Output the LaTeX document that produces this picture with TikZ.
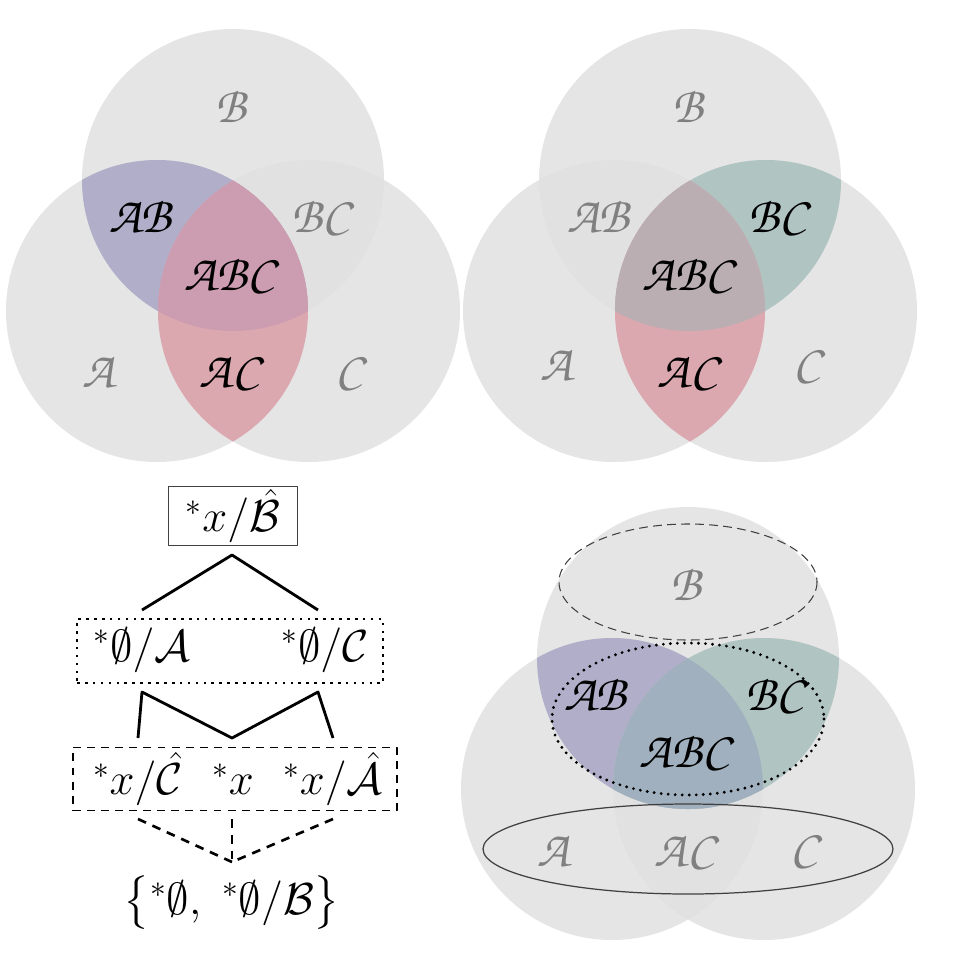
\documentclass[tikz,border=0pt]{standalone}
\usepackage{amsmath,amssymb}
\usepackage{fix-cm}
\usepackage{xcolor}
\usepackage{tikz}
\usetikzlibrary{positioning}
\DeclareMathAlphabet{\mathpzc}{OT1}{pzc}{m}{it}
\definecolor{setgray}{RGB}{224,224,224}
\definecolor{labelgray}{RGB}{128,128,128}
\definecolor{abpurple}{RGB}{176,174,200}
\definecolor{acred}{RGB}{220,168,176}
\definecolor{bcgreen}{RGB}{176,196,194}
\definecolor{abcmauve}{RGB}{204,156,176}
\definecolor{abcrose}{RGB}{186,174,178}
\definecolor{abcslate}{RGB}{160,176,190}
\newcommand{\setfont}{\fontsize{29}{34}\selectfont}
\newcommand{\treefont}{\fontsize{25.5}{30}\selectfont}

% The three discs of one diagram, B on top, A and C below it.
\newcommand{\setdisks}{%
  \foreach \sx/\sy in {-76/131,0/0,76/131}{%
    \fill[setgray, fill opacity=.85] (\sx,\sy) circle[radius=151];
  }%
}
% Fill the overlap of two discs: colour, first centre, second centre.
\newcommand{\lensfill}[3]{%
  \begin{scope}
    \clip #2 circle[radius=151];
    \fill[#1] #3 circle[radius=151];
  \end{scope}%
}
% Fill the middle region shared by all three discs.
\newcommand{\corefill}[1]{%
  \begin{scope}
    \clip (-76,131) circle[radius=151];
    \clip (0,0) circle[radius=151];
    \fill[#1] (76,131) circle[radius=151];
  \end{scope}%
}

\tikzset{
  offlabel/.style={text=labelgray, font=\setfont, inner sep=0pt},
  onlabel/.style={text=black, font=\setfont, inner sep=0pt},
  termnode/.style={font=\treefont, inner sep=0pt},
  rootbox/.style={draw=black!75, line width=.6pt, font=\treefont,
    minimum width=2.58cm, minimum height=1.18cm, inner sep=0pt},
  dotbox/.style={draw, line width=1.5pt, dash pattern=on 1.5pt off 3pt,
    minimum width=6.12cm, minimum height=1.28cm},
  dashbox/.style={draw, line width=1.1pt, dash pattern=on 4.5pt off 3.5pt,
    minimum width=6.48cm, minimum height=1.26cm},
  branch/.style={line width=1.6pt},
  dashbranch/.style={line width=1.5pt, dash pattern=on 5pt off 4pt},
}

\begin{document}
\begin{tikzpicture}[x=0.02cm, y=-0.02cm, line join=round]
  \useasboundingbox (0,0) rectangle (979,963);

  % Top left: AB and AC marked.
  \begin{scope}[shift={(233,180)}]
    \setdisks
    \lensfill{abpurple}{(-76,131)}{(0,0)}
    \lensfill{acred}{(-76,131)}{(76,131)}
    \corefill{abcmauve}
    \node[offlabel] (p1B) at (0,-73) {$\mathpzc{B}$};
    \node[onlabel] (p1AB) at (-91,37) {$\mathpzc{AB}$};
    \node[offlabel] (p1BC) at (90,37) {$\mathpzc{BC}$};
    \node[onlabel] (p1ABC) at (-1,95) {$\mathpzc{ABC}$};
    \node[offlabel] (p1A) at (-133,192) {$\mathpzc{A}$};
    \node[onlabel] (p1AC) at (-1,192) {$\mathpzc{AC}$};
    \node[offlabel] (p1C) at (119,192) {$\mathpzc{C}$};
  \end{scope}

  % Top right: BC and AC marked.
  \begin{scope}[shift={(690,180)}]
    \setdisks
    \lensfill{bcgreen}{(0,0)}{(76,131)}
    \lensfill{acred}{(-76,131)}{(76,131)}
    \corefill{abcrose}
    \node[offlabel] (p2B) at (0,-73) {$\mathpzc{B}$};
    \node[offlabel] (p2AB) at (-90,37) {$\mathpzc{AB}$};
    \node[onlabel] (p2BC) at (90,37) {$\mathpzc{BC}$};
    \node[onlabel] (p2ABC) at (0,95) {$\mathpzc{ABC}$};
    \node[offlabel] (p2A) at (-132,185) {$\mathpzc{A}$};
    \node[onlabel] (p2AC) at (0,192) {$\mathpzc{AC}$};
    \node[offlabel] (p2C) at (120,185) {$\mathpzc{C}$};
  \end{scope}

  % Bottom right: AB and BC marked, with the three groupings.
  \begin{scope}[shift={(688,658)}]
    \setdisks
    \lensfill{abpurple}{(-76,131)}{(0,0)}
    \lensfill{bcgreen}{(0,0)}{(76,131)}
    \corefill{abcslate}
    \draw[black!75, line width=.6pt, dash pattern=on 5pt off 3pt]
      (0,-76) ellipse[x radius=129, y radius=58];
    \draw[black, line width=1.8pt, line cap=round, dash pattern=on 0pt off 4pt]
      (0,61) ellipse[x radius=136, y radius=76];
    \draw[black!75, line width=.7pt]
      (0,191) ellipse[x radius=205, y radius=45];
    \node[offlabel] (p3B) at (0,-73) {$\mathpzc{B}$};
    \node[onlabel] (p3AB) at (-91,37) {$\mathpzc{AB}$};
    \node[onlabel] (p3BC) at (89,37) {$\mathpzc{BC}$};
    \node[onlabel] (p3ABC) at (-1,94) {$\mathpzc{ABC}$};
    \node[offlabel] (p3A) at (-133,192) {$\mathpzc{A}$};
    \node[offlabel] (p3AC) at (-1,192) {$\mathpzc{AC}$};
    \node[offlabel] (p3C) at (119,192) {$\mathpzc{C}$};
  \end{scope}

  % Bottom left: the tree of readings.
  \node[rootbox] (root) at (233,516) {$^*x/\hat{\mathcal{B}}$};
  \node[dotbox] (midrow) at (230,651) {};
  \node[termnode] (nullA) at (142,650) {$^*\emptyset/\mathcal{A}$};
  \node[termnode] (nullC) at (325,650) {$^*\emptyset/\mathcal{C}$};
  \node[dashbox] (lowrow) at (235,779) {};
  \node[termnode] (xC) at (138,779) {$^*x/\hat{\mathcal{C}}$};
  \node[termnode] (xbare) at (233,779) {$^*x$};
  \node[termnode] (xA) at (333,779) {$^*x/\hat{\mathcal{A}}$};
  \node[termnode] (leaf) at (232,903)
    {$\bigl\{{}^*\emptyset,\ {}^*\emptyset/\mathcal{B}\bigr\}$};

  \coordinate (fork) at (232,555);
  \coordinate (legA) at (142,610);
  \coordinate (legC) at (318,610);
  \draw[branch] (legA) -- (fork) -- (legC);

  \coordinate (upA) at (142,692);
  \coordinate (upC) at (318,692);
  \coordinate (dnC) at (138,738);
  \coordinate (dnX) at (232,738);
  \coordinate (dnA) at (333,738);
  \draw[branch] (dnC) -- (upA) -- (dnX) -- (upC) -- (dnA);

  \coordinate (meet) at (232,862);
  \foreach \sxp in {138,232,333}
    \draw[dashbranch] (\sxp,819) -- (meet);
\end{tikzpicture}
\end{document}
